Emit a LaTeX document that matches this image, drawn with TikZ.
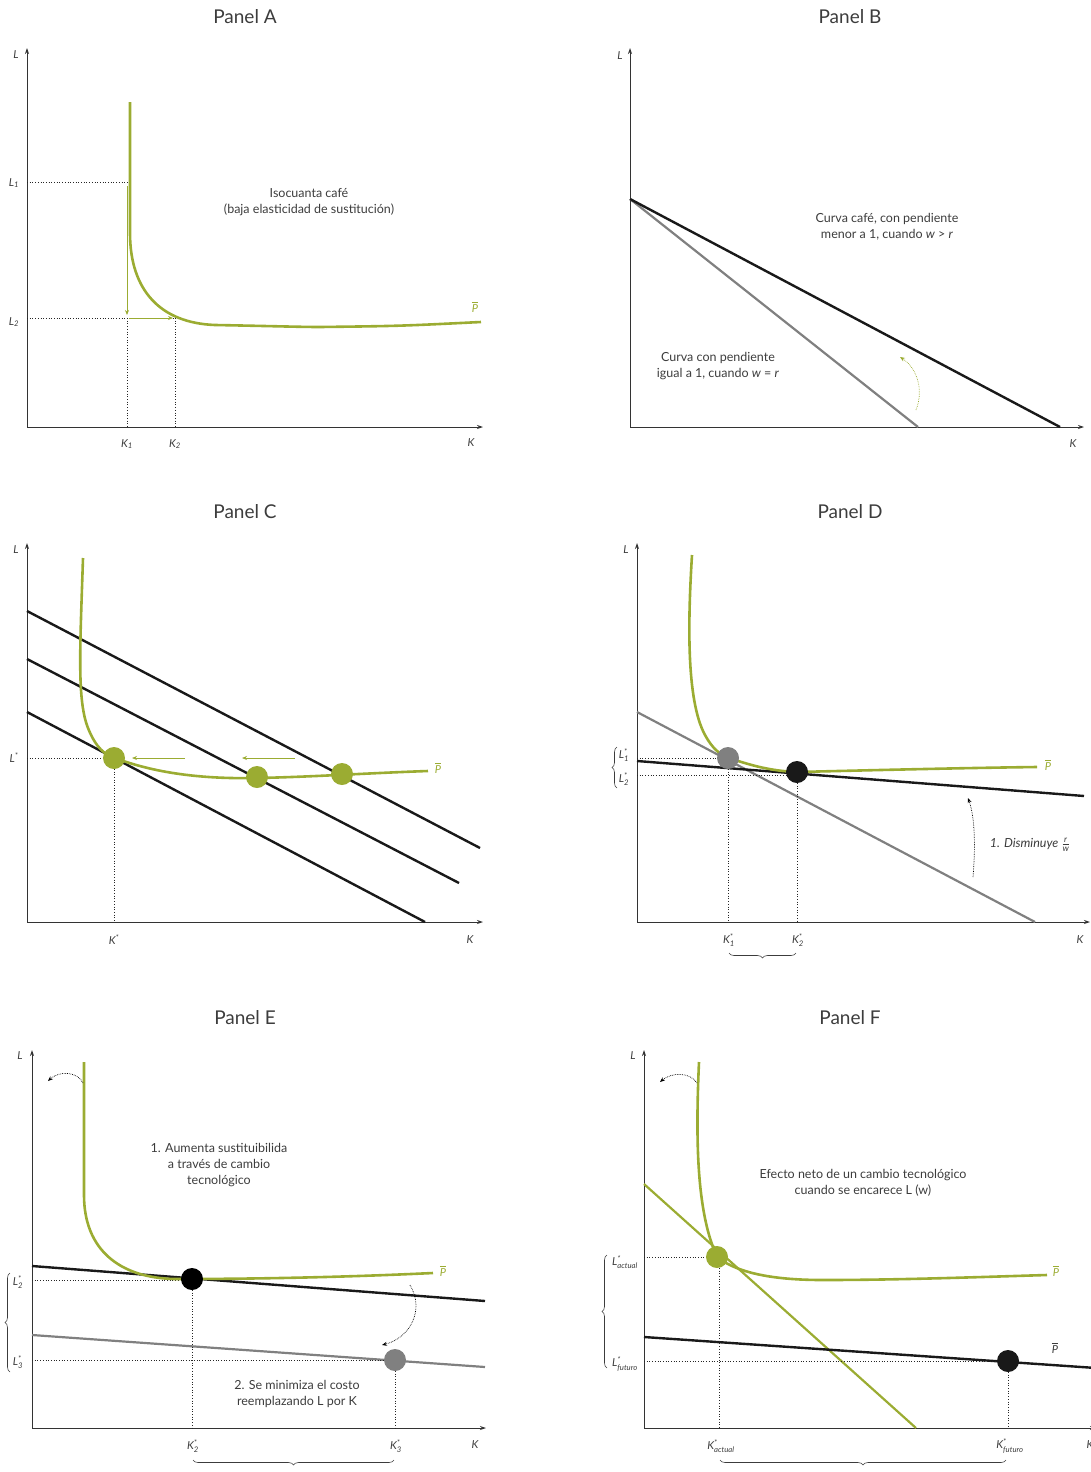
\documentclass[tikz,border=0pt]{standalone}
\usepackage{amsmath}
\usepackage{fontspec}
\setmainfont{Lato}
\usetikzlibrary{positioning, arrows.meta, decorations.pathreplacing}
\definecolor{isoGreen}{RGB}{155,172,50}
\definecolor{inkGray}{RGB}{60,60,60}
\newcommand{\optlab}[2]{\textit{#1}$^{\text{*}}_{\text{\itshape #2}}$}
\newcommand{\pbar}{$\overline{\text{\itshape P}}$}

\begin{document}
\begin{tikzpicture}[
        x=1pt, y=-1pt,
        title/.style={font=\fontsize{19}{22}\selectfont, text=inkGray},
        axis/.style={-{Stealth[length=6pt, width=4pt]}, line width=0.9pt, draw=black!80},
        axlabel/.style={font=\fontsize{11}{13}\selectfont\itshape, text=inkGray},
        note/.style={font=\fontsize{12.5}{16}\selectfont, text=inkGray, align=center},
        iso/.style={draw=isoGreen, line width=2.6pt},
        budget/.style={draw=black!90, line width=2.4pt},
        oldbudget/.style={draw=gray, line width=2.2pt},
        guide/.style={dotted, line width=0.7pt, draw=black!85},
        dot/.style={circle, inner sep=0pt, minimum size=22pt},
        move/.style={-{Stealth[length=5pt, width=4pt]}, draw=isoGreen, line width=0.9pt},
        turn/.style={-{Stealth[length=5pt, width=4pt]}, densely dotted, line width=0.7pt},
        brace/.style={decorate, decoration={brace, amplitude=5pt}, line width=0.6pt, draw=inkGray}
    ]
    \useasboundingbox (0,0) rectangle (1091,1472);

    % Panel A
    \node[title] (titA) at (245,17) {Panel A};
    \draw[axis] (27,427) -- (27,48);
    \draw[axis] (27,427) -- (483,427);
    \node[axlabel] (LA) at (16,55) {L};
    \node[axlabel] (KA) at (471,443) {K};
    \draw[guide] (27,182) -- (127,182);
    \draw[guide] (27,318) -- (175,318);
    \draw[guide] (127,318) -- (127,427);
    \draw[guide] (175,318) -- (175,427);
    \draw[iso] (130,102) -- (130,233) .. controls (130,290) and (160,323) .. (215,325)
        .. controls (270,326) and (300,327) .. (320,327) .. controls (400,326) .. (481,322);
    \draw[move] (127,186) -- (127,315);
    \draw[move] (129,318) -- (173,318);
    \node[axlabel] (L1A) at (14,183) {L$_{\text{\itshape 1}}$};
    \node[axlabel] (L2A) at (14,322) {L$_{\text{\itshape 2}}$};
    \node[axlabel] (K1A) at (127,444) {K$_{\text{\itshape 1}}$};
    \node[axlabel] (K2A) at (175,444) {K$_{\text{\itshape 2}}$};
    \node[axlabel, text=isoGreen] (PA) at (475,307) {\pbar};
    \node[note] (noteA) at (309,202) {Isocuanta café\\(baja elasticidad de sustitución)};

    % Panel B
    \node[title] (titB) at (850,17) {Panel B};
    \draw[axis] (630,427) -- (630,48);
    \draw[axis] (630,427) -- (1084,427);
    \node[axlabel] (LB) at (620,56) {L};
    \node[axlabel] (KB) at (1073,444) {K};
    \draw[oldbudget] (630,199) -- (918,427);
    \draw[budget] (630,199) -- (1060,427);
    \draw[turn, draw=isoGreen] (916,410) .. controls (924,390) and (917,368) .. (900,357);
    \node[note] (noteB1) at (887,227) {Curva café, con pendiente\\menor a 1, cuando \textit{w} > \textit{r}};
    \node[note] (noteB2) at (718,366) {Curva con pendiente\\igual a 1, cuando \textit{w} = \textit{r}};

    % Panel C
    \node[title] (titC) at (245,512) {Panel C};
    \draw[axis] (27,922) -- (27,543);
    \draw[axis] (27,922) -- (483,922);
    \node[axlabel] (LC) at (16,550) {L};
    \node[axlabel] (KC) at (470,940) {K};
    \draw[budget] (27,611) -- (480,848);
    \draw[budget] (27,659) -- (459,883);
    \draw[budget] (27,712) -- (425,922);
    \draw[guide] (27,758) -- (114,758);
    \draw[guide] (114,758) -- (114,922);
    \draw[iso] (83,558) .. controls (80,650) and (77,700) .. (88,728)
        .. controls (96,748) and (105,755) .. (115,758)
        .. controls (160,775) and (210,779) .. (257,778)
        .. controls (310,777) and (370,773) .. (428,771);
    \node[dot, fill=isoGreen] (c1) at (114,758) {};
    \node[dot, fill=isoGreen] (c2) at (257,777) {};
    \node[dot, fill=isoGreen] (c3) at (342,774) {};
    \draw[move] (185,758) -- (132,758);
    \draw[move] (295,758) -- (242,758);
    \node[axlabel] (LsC) at (14,758) {L$^{\text{*}}$};
    \node[axlabel] (KsC) at (114,940) {K$^{\text{*}}$};
    \node[axlabel, text=isoGreen] (PC) at (438,768) {\pbar};

    % Panel D
    \node[title] (titD) at (850,512) {Panel D};
    \draw[axis] (637,922) -- (637,543);
    \draw[axis] (637,922) -- (1090,922);
    \node[axlabel] (LD) at (626,550) {L};
    \node[axlabel] (KD) at (1080,940) {K};
    \draw[oldbudget] (637,712) -- (1035,922);
    \draw[budget] (637,761) -- (1084,796);
    \draw[guide] (637,758) -- (728,758);
    \draw[guide] (637,775) -- (797,775);
    \draw[guide] (728,758) -- (728,922);
    \draw[guide] (797,772) -- (797,922);
    \draw[iso] (692,555) .. controls (688,620) and (686,700) .. (705,735)
        .. controls (712,748) and (720,755) .. (729,758)
        .. controls (750,765) and (770,771) .. (797,772)
        .. controls (880,770) and (960,768) .. (1037,767);
    \node[dot, fill=gray] (d1) at (728,758) {};
    \node[dot, fill=black!90] (d2) at (797,772) {};
    \node[axlabel] (L1D) at (624,755) {\optlab{L}{1}};
    \node[axlabel] (L2D) at (624,779) {\optlab{L}{2}};
    \draw[brace] (617,788) -- (617,747);
    \node[axlabel] (K1D) at (729,940) {\optlab{K}{1}};
    \node[axlabel] (K2D) at (798,940) {\optlab{K}{2}};
    \draw[brace] (796,953) -- (729,953);
    \draw[turn] (973,877) .. controls (976,840) and (974,815) .. (968,798);
    \node[axlabel, font=\fontsize{12.5}{14}\selectfont\itshape] (noteD) at (1030,845) {1. Disminuye $\frac{\textit{r}}{\textit{w}}$};
    \node[axlabel, text=isoGreen] (PD) at (1048,765) {\pbar};

    % Panel E
    \node[title] (titE) at (245,1018) {Panel E};
    \draw[axis] (32,1428) -- (32,1050);
    \draw[axis] (32,1428) -- (486,1428);
    \node[axlabel] (LE) at (20,1056) {L};
    \node[axlabel] (KE) at (475,1445) {K};
    \draw[budget] (32,1266) -- (485,1301);
    \draw[oldbudget] (32,1335) -- (485,1367);
    \draw[guide] (32,1280) -- (192,1280);
    \draw[guide] (32,1360) -- (395,1360);
    \draw[guide] (192,1279) -- (192,1428);
    \draw[guide] (395,1360) -- (395,1428);
    \draw[iso] (84,1062) -- (84,1195) .. controls (84,1250) and (120,1278) .. (175,1279)
        .. controls (280,1279) and (370,1276) .. (433,1273);
    \node[dot, fill=black] (e1) at (192,1279) {};
    \node[dot, fill=gray] (e2) at (395,1360) {};
    \node[axlabel] (L2E) at (18,1282) {\optlab{L}{2}};
    \node[axlabel] (L3E) at (18,1362) {\optlab{L}{3}};
    \draw[brace] (10,1372) -- (10,1273);
    \node[axlabel] (K2E) at (193,1446) {\optlab{K}{2}};
    \node[axlabel] (K3E) at (396,1446) {\optlab{K}{3}};
    \draw[brace] (394,1460) -- (193,1460);
    \draw[turn] (83,1083) .. controls (78,1072) and (60,1070) .. (48,1081);
    \draw[turn] (410,1285) .. controls (425,1310) and (410,1338) .. (382,1345);
    \node[note] (noteE1) at (219,1165) {1. Aumenta sustituibilida\\a través de cambio\\tecnológico};
    \node[note] (noteE2) at (297,1394) {2. Se minimiza el costo\\reemplazando L por K};
    \node[axlabel, text=isoGreen] (PE) at (443,1271) {\pbar};

    % Panel F
    \node[title] (titF) at (850,1018) {Panel F};
    \draw[axis] (644,1428) -- (644,1050);
    \draw[axis] (644,1428) -- (1096,1428);
    \node[axlabel] (LF) at (633,1056) {L};
    \node[axlabel] (KF) at (1090,1445) {K};
    \draw[iso, line width=2.2pt] (644,1184) -- (916,1428);
    \draw[budget] (644,1337) -- (1096,1368);
    \draw[guide] (644,1257) -- (717,1257);
    \draw[guide] (644,1361) -- (1008,1361);
    \draw[guide] (719,1257) -- (719,1428);
    \draw[guide] (1008,1361) -- (1008,1428);
    \draw[iso] (699,1062) .. controls (695,1150) and (698,1215) .. (717,1257)
        .. controls (740,1275) and (780,1280) .. (823,1280)
        .. controls (900,1280) and (980,1277) .. (1047,1275);
    \node[dot, fill=isoGreen] (f1) at (717,1257) {};
    \node[dot, fill=black!90] (f2) at (1008,1361) {};
    \node[axlabel] (L1F) at (625,1262) {\optlab{L}{actual}};
    \node[axlabel] (L2F) at (625,1364) {\optlab{L}{futuro}};
    \draw[brace] (607,1368) -- (607,1255);
    \node[axlabel] (K1F) at (721,1446) {\optlab{K}{actual}};
    \node[axlabel] (K2F) at (1010,1446) {\optlab{K}{futuro}};
    \draw[brace] (1006,1460) -- (720,1460);
    \draw[turn] (697,1083) .. controls (690,1072) and (672,1072) .. (660,1082);
    \node[note] (noteF) at (863,1183) {Efecto neto de un cambio tecnológico\\cuando se encarece L (w)};
    \node[axlabel, text=isoGreen] (PF1) at (1056,1271) {\pbar};
    \node[axlabel] (PF2) at (1055,1348) {\pbar};

\end{tikzpicture}
\end{document}
